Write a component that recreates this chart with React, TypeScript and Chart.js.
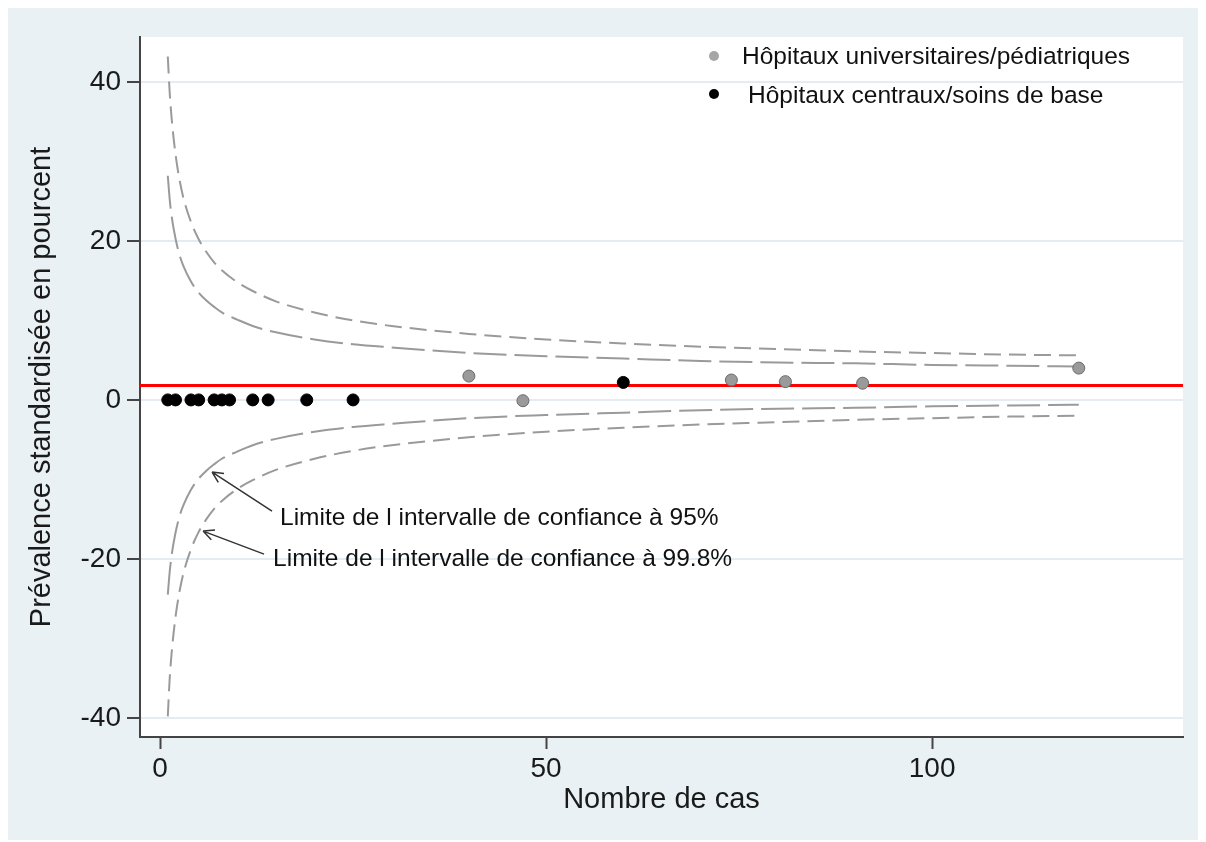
import { useEffect, useRef } from "react";
import { Chart, registerables } from "chart.js";

Chart.register(...registerables);

// ---- Data ----
const centrauxX = [1, 2, 4, 5, 7, 8, 9, 12, 14, 19, 25, 60];
const centrauxY = [0, 0, 0, 0, 0, 0, 0, 0, 0, 0, 0, 2.2];

const univX = [40, 47, 74, 81, 91, 119];
const univY = [3.0, -0.1, 2.5, 2.3, 2.1, 4.0];

const overallPrevalence = 1.8;

const limitX = [1, 1.25, 1.5, 2, 2.5, 3, 4, 5, 6, 7, 8, 10, 12, 15, 20, 25, 30, 40, 50, 60, 70, 80, 90, 100, 110, 119];
const upper95 = [28.2, 25.2, 23.1, 20.3, 18.3, 16.9, 14.9, 13.5, 12.5, 11.7, 11.0, 10.1, 9.3, 8.5, 7.6, 7.0, 6.6, 5.9, 5.5, 5.2, 4.9, 4.7, 4.6, 4.4, 4.3, 4.2];
const lower95 = [-24.5, -21.6, -19.5, -16.7, -14.7, -13.3, -11.3, -9.9, -8.9, -8.1, -7.4, -6.5, -5.7, -4.9, -4.0, -3.4, -3.0, -2.3, -1.9, -1.6, -1.3, -1.1, -1.0, -0.8, -0.7, -0.6];
const upper998 = [43.2, 38.6, 35.4, 30.9, 27.8, 25.5, 22.4, 20.2, 18.6, 17.3, 16.3, 14.8, 13.7, 12.4, 11.0, 10.0, 9.3, 8.3, 7.6, 7.1, 6.7, 6.4, 6.1, 5.9, 5.7, 5.6];
const lower998 = [-39.8, -35.0, -31.8, -27.3, -24.2, -21.9, -18.8, -16.6, -15.0, -13.7, -12.7, -11.2, -10.1, -8.8, -7.4, -6.4, -5.7, -4.7, -4.0, -3.5, -3.1, -2.8, -2.5, -2.3, -2.1, -2.0];

const xTickValues = [0, 50, 100];
const yTickValues = [-40, -20, 0, 20, 40];
const xRange = [-2.6, 132.5];
const yRange = [-42.4, 45.65];

const legendLabels = ["Hôpitaux universitaires/pédiatriques", "Hôpitaux centraux/soins de base"];
const annotationLabels = [
  "Limite de l intervalle de confiance à 95%",
  "Limite de l intervalle de confiance à 99.8%",
];

const FONT = "'Liberation Sans', Arial, sans-serif";

const pts = (xs: number[], ys: number[]) => xs.map((x, i) => ({ x, y: ys[i] }));

const bgPlugin = {
  id: "bgPlugin",
  beforeDraw(chart: any) {
    const { ctx, chartArea, width, height } = chart;
    ctx.save();
    ctx.fillStyle = "#e9f1f4";
    ctx.fillRect(0, 0, width, height);
    ctx.fillStyle = "#ffffff";
    ctx.fillRect(chartArea.left, chartArea.top, chartArea.right - chartArea.left, chartArea.bottom - chartArea.top);
    ctx.restore();
  },
};

function arrow(ctx: CanvasRenderingContext2D, x1: number, y1: number, x2: number, y2: number) {
  ctx.beginPath();
  ctx.moveTo(x1, y1);
  ctx.lineTo(x2, y2);
  const ang = Math.atan2(y2 - y1, x2 - x1);
  const len = 12;
  const spread = 0.45;
  ctx.moveTo(x2, y2);
  ctx.lineTo(x2 - len * Math.cos(ang - spread), y2 - len * Math.sin(ang - spread));
  ctx.moveTo(x2, y2);
  ctx.lineTo(x2 - len * Math.cos(ang + spread), y2 - len * Math.sin(ang + spread));
  ctx.stroke();
}

const overlayPlugin = {
  id: "overlayPlugin",
  afterDraw(chart: any) {
    const { ctx } = chart;
    const xs = chart.scales.x;
    const ys = chart.scales.y;
    const X = (v: number) => xs.getPixelForValue(v);
    const Y = (v: number) => ys.getPixelForValue(v);
    ctx.save();
    // Legend
    ctx.font = `24.5px ${FONT}`;
    ctx.textBaseline = "middle";
    ctx.textAlign = "left";
    ctx.fillStyle = "#a6a6a6";
    ctx.beginPath();
    ctx.arc(706, 48, 5, 0, Math.PI * 2);
    ctx.fill();
    ctx.fillStyle = "#000";
    ctx.beginPath();
    ctx.arc(706, 86, 5, 0, Math.PI * 2);
    ctx.fill();
    ctx.fillStyle = "#111";
    ctx.fillText(legendLabels[0], 734, 49);
    ctx.fillText(legendLabels[1], 740, 88);

    // Annotations
    ctx.strokeStyle = "#333";
    ctx.lineWidth = 1.5;
    arrow(ctx, X(14.5), Y(-14.0), X(6.74), Y(-9.07));
    arrow(ctx, X(13.47), Y(-19.4), X(5.57), Y(-16.5));
    ctx.fillStyle = "#111";
    ctx.fillText(annotationLabels[0], X(15.54), Y(-14.86));
    ctx.fillText(annotationLabels[1], X(14.64), Y(-20.0));
    ctx.restore();
  },
};

export default function App() {
  const ref = useRef<HTMLCanvasElement | null>(null);
  useEffect(() => {
    if (!ref.current) return;
    const curve = (data: number[], dash: number[]) => ({
      type: "line" as const,
      data: pts(limitX, data),
      borderColor: "#9a9a9a",
      borderWidth: 2,
      borderDash: dash,
      pointRadius: 0,
      fill: false,
      cubicInterpolationMode: "monotone" as const,
      order: 3,
    });
    const chart = new Chart(ref.current, {
      type: "scatter",
      data: {
        datasets: [
          {
            label: legendLabels[1],
            data: pts(centrauxX, centrauxY),
            backgroundColor: "#000",
            borderColor: "#000",
            pointRadius: 6,
            borderWidth: 1,
            order: 0,
          },
          {
            label: legendLabels[0],
            data: pts(univX, univY),
            backgroundColor: "#9a9a9a",
            borderColor: "#6a6a6a",
            pointRadius: 6,
            borderWidth: 1,
            order: 0,
          },
          {
            type: "line",
            label: "overall",
            data: [
              { x: xRange[0], y: overallPrevalence },
              { x: xRange[1], y: overallPrevalence },
            ],
            borderColor: "#ff0000",
            borderWidth: 3,
            pointRadius: 0,
            order: 2,
          },
          curve(upper998, [17, 8]),
          curve(lower998, [17, 8]),
          curve(upper95, [33, 8]),
          curve(lower95, [33, 8]),
        ] as any,
      },
      options: {
        responsive: false,
        animation: false,
        events: [],
        layout: { padding: { left: 0, top: 29, right: 17, bottom: 0 } },
        plugins: {
          legend: { display: false },
          tooltip: { enabled: false },
        },
        scales: {
          x: {
            type: "linear",
            min: xRange[0],
            max: xRange[1],
            afterBuildTicks: (s: any) => {
              s.ticks = xTickValues.map((v) => ({ value: v }));
            },
            afterFit: (s: any) => {
              s.height = 103;
            },
            grid: {
              drawOnChartArea: false,
              drawTicks: true,
              tickLength: 12,
              tickColor: "#444",
              tickWidth: 2,
            },
            border: { display: true, color: "#444", width: 2 },
            ticks: {
              font: { family: FONT, size: 28 },
              color: "#1a1a1a",
              padding: 3,
              maxRotation: 0,
            },
            title: {
              display: true,
              text: "Nombre de cas",
              font: { family: FONT, size: 29 },
              color: "#1a1a1a",
              padding: { top: 0, bottom: 23 },
            },
          },
          y: {
            type: "linear",
            min: yRange[0],
            max: yRange[1],
            afterBuildTicks: (s: any) => {
              s.ticks = yTickValues.map((v) => ({ value: v }));
            },
            afterFit: (s: any) => {
              s.width = 132;
            },
            grid: {
              color: "#e3ecf0",
              lineWidth: 2,
              drawTicks: true,
              tickLength: 13,
              tickColor: "#444",
              tickWidth: 2,
            },
            border: { display: true, color: "#444", width: 2 },
            ticks: {
              font: { family: FONT, size: 28 },
              color: "#1a1a1a",
              padding: 6,
            },
            title: {
              display: true,
              text: "Prévalence standardisée en pourcent",
              font: { family: FONT, size: 29 },
              color: "#1a1a1a",
              padding: { top: 17, bottom: 0 },
            },
          },
        },
      },
      plugins: [bgPlugin, overlayPlugin],
    });
    return () => chart.destroy();
  }, []);
  return (
    <div style={{ width: 1192, height: 832 }}>
      <canvas ref={ref} width={1192} height={832} style={{ display: "block" }} />
    </div>
  );
}
